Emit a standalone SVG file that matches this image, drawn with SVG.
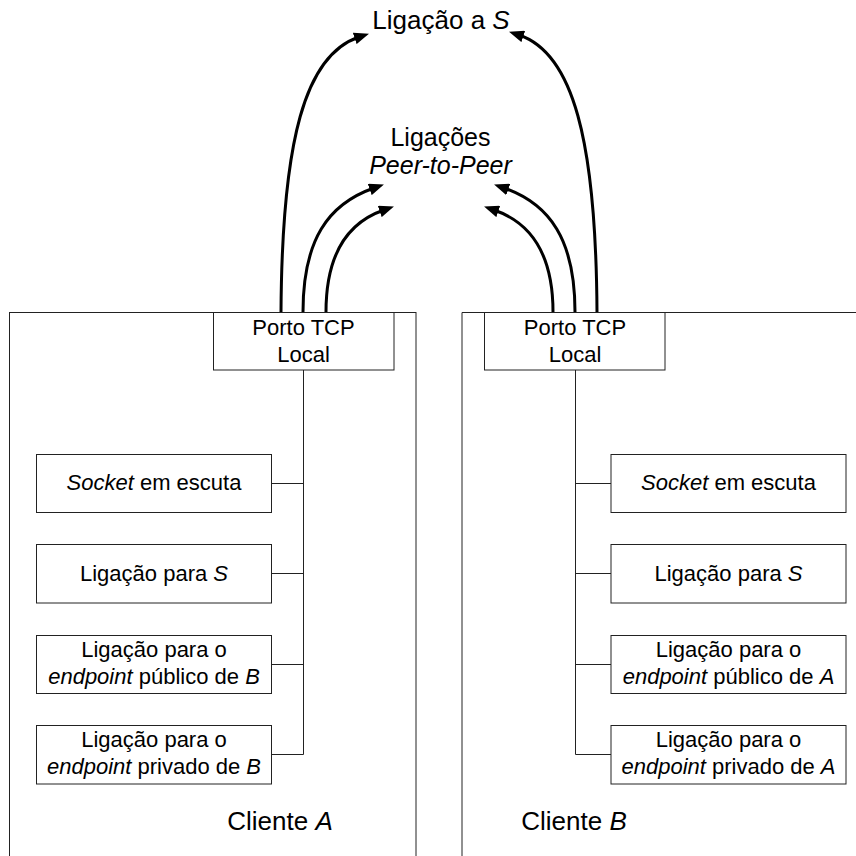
<svg xmlns="http://www.w3.org/2000/svg" width="856" height="856" viewBox="0 0 856 856">
<defs>
<style>
text{font-family:"Liberation Sans",Arial,sans-serif;fill:#000;text-anchor:middle}
.b{font-size:22px}
.l{font-size:26px}
.p{font-size:25px}
.i{font-style:italic}
.box{fill:#fff;stroke:#222;stroke-width:1}
.ln{fill:none;stroke:#222;stroke-width:1}
.arr{fill:none;stroke:#000;stroke-width:3;marker-end:url(#ah)}
</style>
<marker id="ah" viewBox="0 0 10 8" markerWidth="5" markerHeight="4" refX="3" refY="4" orient="auto" markerUnits="strokeWidth">
<path d="M0,0 L10,4 L0,8 z" fill="#000"/>
</marker>
</defs>
<rect width="856" height="856" fill="#fff"/>

<g id="clientA">
<rect class="box" x="9.5" y="312.5" width="406.5" height="600"/>
<text class="l" x="280" y="830">Cliente <tspan class="i">A</tspan></text>
</g>
<g id="clientB">
<path class="ln" d="M462,900 V312.5 H860"/>
<text class="l" x="574" y="830">Cliente <tspan class="i">B</tspan></text>
</g>

<g id="connectors">
<path class="ln" d="M303.5,370 V754.5 M271.5,483.5 H303.5 M271.5,573.5 H303.5 M271.5,664.5 H303.5 M271.5,754.5 H303.5"/>
<path class="ln" d="M575.5,370 V754.5 M575.5,483.5 H611 M575.5,573.5 H611 M575.5,664.5 H611 M575.5,754.5 H611"/>
<path class="arr" d="M281,312 C282,140 305,55 359,37"/>
<path class="arr" d="M303,312 C303,240 328,204 374,188"/>
<path class="arr" d="M326,312 C326,256 346,223 384,210"/>
<path class="arr" d="M597,312 C596,140 573,53 519,35"/>
<path class="arr" d="M575,312 C575,240 550,204 504,188"/>
<path class="arr" d="M553,312 C553,256 532,223 494,210"/>
</g>

<g id="ligacaoS"><text class="l" x="441" y="29">Ligação a <tspan class="i">S</tspan></text></g>
<g id="p2p"><text class="p" x="440.5" y="145.5">Ligações</text><text class="p i" x="440.5" y="173.5">Peer-to-Peer</text></g>

<g id="portoA">
<rect class="box" x="213.5" y="312.5" width="180.5" height="57.5"/>
<text class="b" x="303.5" y="335">Porto TCP</text>
<text class="b" x="303.5" y="361.5">Local</text>
</g>
<g id="portoB">
<rect class="box" x="484.5" y="312.5" width="180.5" height="57.5"/>
<text class="b" x="575" y="335">Porto TCP</text>
<text class="b" x="575" y="361.5">Local</text>
</g>

<g id="socketA"><rect class="box" x="36.5" y="454.5" width="235" height="58"/><text class="b" x="154" y="490"><tspan class="i">Socket</tspan> em escuta</text></g>
<g id="ligSA"><rect class="box" x="36.5" y="544.5" width="235" height="58.5"/><text class="b" x="154" y="581">Ligação para <tspan class="i">S</tspan></text></g>
<g id="pubA"><rect class="box" x="36.5" y="635.5" width="235" height="58"/><text class="b" x="154" y="657">Ligação para o</text><text class="b" x="154" y="683.5"><tspan class="i">endpoint</tspan> público de <tspan class="i">B</tspan></text></g>
<g id="privA"><rect class="box" x="36.5" y="725.5" width="235" height="58.5"/><text class="b" x="154" y="747">Ligação para o</text><text class="b" x="154" y="773.5"><tspan class="i">endpoint</tspan> privado de <tspan class="i">B</tspan></text></g>

<g id="socketB"><rect class="box" x="611" y="454.5" width="235" height="58"/><text class="b" x="728.5" y="490"><tspan class="i">Socket</tspan> em escuta</text></g>
<g id="ligSB"><rect class="box" x="611" y="544.5" width="235" height="58.5"/><text class="b" x="728.5" y="581">Ligação para <tspan class="i">S</tspan></text></g>
<g id="pubB"><rect class="box" x="611" y="635.5" width="235" height="58"/><text class="b" x="728.5" y="657">Ligação para o</text><text class="b" x="728.5" y="683.5"><tspan class="i">endpoint</tspan> público de <tspan class="i">A</tspan></text></g>
<g id="privB"><rect class="box" x="611" y="725.5" width="235" height="58.5"/><text class="b" x="728.5" y="747">Ligação para o</text><text class="b" x="728.5" y="773.5"><tspan class="i">endpoint</tspan> privado de <tspan class="i">A</tspan></text></g>
</svg>
